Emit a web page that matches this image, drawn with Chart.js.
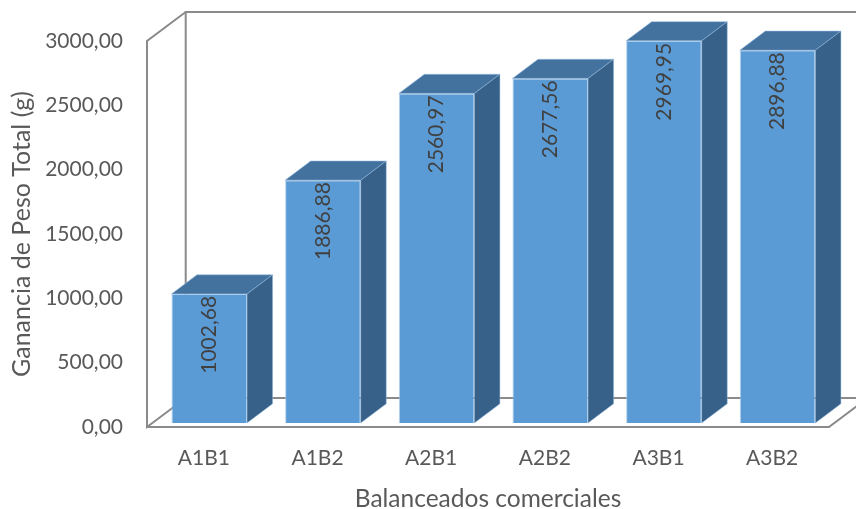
<!DOCTYPE html>
<html lang="es">
<head>
<meta charset="utf-8">
<title>Ganancia de Peso Total</title>
<script src="https://cdn.jsdelivr.net/npm/chart.js@4.4.1/dist/chart.umd.min.js"></script>
<style>
  html, body { margin: 0; padding: 0; background: #ffffff; }
  #wrap { width: 856px; height: 509px; }
  canvas { display: block; }
</style>
</head>
<body>
<div id="wrap"><canvas id="chart" width="856" height="509"></canvas></div>
<script>
// Data
const categories = ['A1B1', 'A1B2', 'A2B1', 'A2B2', 'A3B1', 'A3B2'];
const gananciaPeso = [1002.68, 1886.88, 2560.97, 2677.56, 2969.95, 2896.88];
const yMin = 0;
const yMax = 3000;
const yStep = 500;
const xTitle = 'Balanceados comerciales';
const yTitle = 'Ganancia de Peso Total (g)';

// Style
const FONT = 'Lato, "Open Sans", sans-serif';
const TEXT = '#595959';
const LABEL = '#404040';
const WALL = '#8a8a8a';
const FRONT = '#5b9bd5';
const TOP = '#43729f';
const SIDE = '#386189';
const DEPTH = { x: 38.7, y: -29 };      // full depth of the floor / walls
const BAR_START = 0.14;                 // bars begin this far back
const BAR_DEPTH = 0.66;                 // bar depth as a share of the floor depth

const fmt = v => v.toFixed(2).replace('.', ',');

const box3d = {
  id: 'box3d',
  beforeDatasetsDraw(chart) {
    const { ctx, chartArea: a } = chart;
    const L = a.left, R = a.right, T = a.top, B = a.bottom;
    const dx = DEPTH.x, dy = DEPTH.y;
    ctx.save();
    ctx.strokeStyle = WALL;
    ctx.lineWidth = 2;
    ctx.lineCap = 'butt';
    ctx.beginPath();
    // back wall
    ctx.moveTo(R + dx, T + dy); ctx.lineTo(L + dx, T + dy);
    ctx.lineTo(L + dx, B + dy); ctx.lineTo(R + dx, B + dy);
    // side wall
    ctx.moveTo(L + dx, T + dy); ctx.lineTo(L, T); ctx.lineTo(L, B); ctx.lineTo(L + dx, B + dy);
    // floor front edge
    ctx.moveTo(L, B); ctx.lineTo(R, B); ctx.lineTo(R + dx, B + dy);
    ctx.stroke();
    ctx.restore();

    // bars sit a little behind the front plane
    ctx.save();
    ctx.translate(DEPTH.x * BAR_START, DEPTH.y * BAR_START);
  },
  afterDatasetsDraw(chart) {
    const { ctx } = chart;
    const meta = chart.getDatasetMeta(0);
    const bx = DEPTH.x * BAR_DEPTH, by = DEPTH.y * BAR_DEPTH;
    meta.data.forEach((bar, i) => {
      const p = bar.getProps(['x', 'y', 'base', 'width'], true);
      const x1 = p.x - p.width / 2, x2 = p.x + p.width / 2;
      const yt = p.y, yb = p.base;
      // top face
      ctx.beginPath();
      ctx.moveTo(x1, yt); ctx.lineTo(x2, yt);
      ctx.lineTo(x2 + bx, yt + by); ctx.lineTo(x1 + bx, yt + by);
      ctx.closePath();
      ctx.fillStyle = TOP; ctx.fill();
      ctx.strokeStyle = 'rgba(150,190,228,0.55)'; ctx.lineWidth = 1; ctx.stroke();
      // right face
      ctx.beginPath();
      ctx.moveTo(x2, yt); ctx.lineTo(x2 + bx, yt + by);
      ctx.lineTo(x2 + bx, yb + by); ctx.lineTo(x2, yb);
      ctx.closePath();
      ctx.fillStyle = SIDE; ctx.fill();
      ctx.strokeStyle = 'rgba(150,190,228,0.45)'; ctx.stroke();

      // value label, rotated, inside the top of the front face
      ctx.save();
      ctx.translate(p.x, yt + 2);
      ctx.rotate(-Math.PI / 2);
      ctx.fillStyle = LABEL;
      ctx.font = '21px ' + FONT;
      ctx.textAlign = 'right';
      ctx.textBaseline = 'middle';
      ctx.fillText(fmt(gananciaPeso[i]), 0, 0);
      ctx.restore();
    });
    ctx.restore();
  }
};

new Chart(document.getElementById('chart'), {
  type: 'bar',
  data: {
    labels: categories,
    datasets: [{
      data: gananciaPeso,
      backgroundColor: FRONT,
      borderColor: 'rgba(160,198,234,0.8)',
      borderWidth: 1,
      barPercentage: 0.665,
      categoryPercentage: 1,
      clip: false
    }]
  },
  options: {
    responsive: false,
    animation: false,
    events: [],
    devicePixelRatio: 1,
    layout: { padding: { left: 0, right: 27, top: 41, bottom: 0 } },
    plugins: { legend: { display: false }, tooltip: { enabled: false } },
    scales: {
      x: {
        grid: { display: false, drawTicks: false },
        border: { display: false },
        ticks: { color: TEXT, font: { family: FONT, size: 21 }, padding: 19 },
        title: {
          display: true, text: xTitle, color: TEXT,
          font: { family: FONT, size: 24.5, lineHeight: 1 }, padding: { top: 0, bottom: -2 }
        },
        afterFit(s) { s.height = 82; }
      },
      y: {
        min: yMin, max: yMax,
        grid: { display: false, drawTicks: false },
        border: { display: false },
        ticks: {
          stepSize: yStep, color: TEXT, padding: 24,
          font: { family: FONT, size: 21 },
          callback: v => fmt(v)
        },
        title: {
          display: true, text: yTitle, color: TEXT,
          font: { family: FONT, size: 25, lineHeight: 1.2 }, padding: { top: 7, bottom: 0 }
        },
        afterFit(s) { s.width = 147; }
      }
    }
  },
  plugins: [box3d]
});
</script>
</body>
</html>
